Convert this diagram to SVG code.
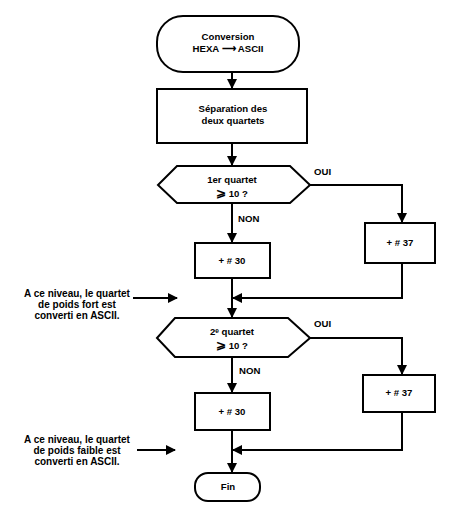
<svg xmlns="http://www.w3.org/2000/svg" width="455" height="516" viewBox="0 0 455 516">
<defs>
<style>
.s{fill:#fff;stroke:#000;stroke-width:2}
.l{fill:none;stroke:#000;stroke-width:2}
text{font-family:"Liberation Sans",Arial,sans-serif;font-weight:bold;font-size:9.6px;fill:#000}
.c{text-anchor:middle}
.n{font-size:10px}
.g{font-size:12px}
</style>
<marker id="a" markerWidth="10" markerHeight="10" refX="9" refY="5" orient="auto" markerUnits="userSpaceOnUse">
<path d="M0,0 L10,5 L0,10 Z" fill="#000"/>
</marker>
</defs>
<rect width="455" height="516" fill="#fff"/>
<g id="connectors">
<path class="l" d="M232,72 V88" marker-end="url(#a)"/>
<path class="l" d="M232,143 V165" marker-end="url(#a)"/>
<path class="l" d="M232,203 V242" marker-end="url(#a)"/>
<path class="l" d="M310,185 H402 V222" marker-end="url(#a)"/>
<path class="l" d="M402,263 V298 H233" marker-end="url(#a)"/>
<path class="l" d="M232,278 V317" marker-end="url(#a)"/>
<path class="l" d="M133,298 H177" marker-end="url(#a)"/>
<path class="l" d="M232,357 V392" marker-end="url(#a)"/>
<path class="l" d="M310,338 H402 V374" marker-end="url(#a)"/>
<path class="l" d="M402,412 V450 H233" marker-end="url(#a)"/>
<path class="l" d="M232,430 V472" marker-end="url(#a)"/>
<path class="l" d="M137,450 H175" marker-end="url(#a)"/>
</g>
<g id="start">
<rect class="s" x="157" y="16" width="142" height="56" rx="26" ry="26"/>
<text class="c" x="228" y="40">Conversion</text>
<text class="c" x="228" y="52">HEXA ⟶ ASCII</text>
</g>
<g id="separation">
<rect class="s" x="157" y="89" width="150" height="54"/>
<text class="c" x="233" y="112">Séparation des</text>
<text class="c" x="233" y="124">deux quartets</text>
</g>
<g id="test1">
<polygon class="s" points="158,185 177,166 290,166 310,185 290,203 177,203"/>
<text class="c" x="232" y="183">1er quartet</text>
<text class="c" x="232" y="197"><tspan class="g">⩾</tspan> 10 ?</text>
<text x="314" y="175">OUI</text>
<text x="238" y="222">NON</text>
</g>
<g id="add30a">
<rect class="s" x="195" y="243" width="75" height="35"/>
<text class="c" x="232" y="264">+ # 30</text>
</g>
<g id="add37a">
<rect class="s" x="365" y="223" width="70" height="40"/>
<text class="c" x="400" y="246">+ # 37</text>
</g>
<g id="note1">
<text class="c n" x="77" y="297">A ce niveau, le quartet</text>
<text class="c n" x="77" y="308">de poids fort est</text>
<text class="c n" x="77" y="319">converti en ASCII.</text>
</g>
<g id="test2">
<polygon class="s" points="157,338 175,318 288,318 310,338 288,357 175,357"/>
<text class="c" x="232" y="335">2ᵉ quartet</text>
<text class="c" x="232" y="349"><tspan class="g">⩾</tspan> 10 ?</text>
<text x="314" y="327">OUI</text>
<text x="239" y="374">NON</text>
</g>
<g id="add30b">
<rect class="s" x="195" y="393" width="75" height="37"/>
<text class="c" x="232" y="415">+ # 30</text>
</g>
<g id="add37b">
<rect class="s" x="363" y="375" width="72" height="37"/>
<text class="c" x="399" y="396">+ # 37</text>
</g>
<g id="note2">
<text class="c n" x="77" y="443">A ce niveau, le quartet</text>
<text class="c n" x="77" y="454">de poids faible est</text>
<text class="c n" x="77" y="465">converti en ASCII.</text>
</g>
<g id="end">
<rect class="s" x="195" y="473" width="65" height="28" rx="13" ry="13"/>
<text class="c" x="228" y="490">Fin</text>
</g>
</svg>
